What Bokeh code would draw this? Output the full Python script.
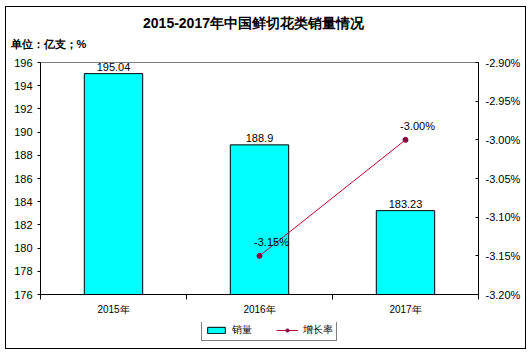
from bokeh.plotting import figure
from bokeh.layouts import column
from bokeh.models import (Range1d, LinearAxis, FixedTicker, PrintfTickFormatter, Label, Plot,
                          Legend, LegendItem, ColumnDataSource, InlineStyleSheet, LabelSet)
from bokeh.core.properties import value
from bokeh.embed import file_html
from bokeh.resources import INLINE

years = ["2015年", "2016年", "2017年"]
sales = [195.04, 188.9, 183.23]
sales_labels = ["195.04", "188.9", "183.23"]
growth_years = ["2016年", "2017年"]
growth = [-3.15, -3.00]
growth_labels = ["-3.15%", "-3.00%"]
left_ticks = [176, 178, 180, 182, 184, 186, 188, 190, 192, 194, 196]
right_ticks = [-3.20, -3.15, -3.10, -3.05, -3.00, -2.95, -2.90]
title_text = "2015-2017年中国鲜切花类销量情况"
unit_text = "单位：亿支；%"

FONT = "Liberation Sans"
W = 531
BL, BR = 40, 53
y_min, y_max = left_ticks[0], left_ticks[-1]
n = len(years)
centers = [i + 0.5 for i in range(n)]
cat_pos = dict(zip(years, centers))

can_unalign = "frame_align" in Plot.properties()


def blank_fig(h, y0=0):
    if can_unalign:
        xr = Range1d(0, W)
    else:
        xr = Range1d(BL, W - BR)
    f = figure(width=W, height=h, x_range=xr, y_range=Range1d(y0, y0 + h),
               output_backend="svg", toolbar_location=None,
               min_border_left=0, min_border_right=0, min_border_top=0, min_border_bottom=0,
               x_axis_location=None, y_axis_location=None)
    if can_unalign:
        f.frame_align = False
    f.xgrid.visible = False
    f.ygrid.visible = False
    f.outline_line_color = None
    f.background_fill_color = "white"
    f.border_fill_color = "white"
    return f


# header with title and unit
HEAD_H = 55
head = blank_fig(HEAD_H)
head.add_layout(Label(x=253, y=HEAD_H - 22, text=title_text, text_align="center",
                      text_baseline="middle", text_font=FONT, text_font_size="14px",
                      text_font_style="bold", text_color="#000000"))
head.add_layout(Label(x=10 if can_unalign else BL + 1, y=HEAD_H - 43, text=unit_text,
                      text_align="left", text_baseline="middle", text_font=FONT,
                      text_font_size="11px", text_font_style="bold", text_color="#000000"))

# main chart
p = figure(width=W, height=267, x_range=Range1d(0, n), y_range=Range1d(y_min, y_max),
           output_backend="svg", toolbar_location=None,
           min_border_left=BL, min_border_right=BR, min_border_top=7, min_border_bottom=28,
           x_axis_location=None, y_axis_location=None)
p.extra_y_ranges = {"pct": Range1d(right_ticks[0], right_ticks[-1])}
p.xgrid.visible = False
p.ygrid.visible = False
p.outline_line_color = "#808080"
p.outline_line_width = 1
p.background_fill_color = "white"
p.border_fill_color = "white"

ly = LinearAxis(ticker=FixedTicker(ticks=left_ticks))
ly.major_tick_out = 3
ly.major_tick_in = 0
ly.minor_tick_line_color = None
ly.major_label_standoff = 5
ly.major_label_text_font = FONT
ly.major_label_text_font_size = "11px"
ly.major_label_text_color = "#000000"
ly.axis_line_color = "#000000"
p.add_layout(ly, "left")

ry = LinearAxis(y_range_name="pct", ticker=FixedTicker(ticks=right_ticks),
                formatter=PrintfTickFormatter(format="%.2f%%"))
ry.major_tick_out = 0
ry.major_tick_in = 3
ry.minor_tick_line_color = None
ry.major_label_standoff = 7
ry.major_label_text_font = FONT
ry.major_label_text_font_size = "11px"
ry.major_label_text_color = "#000000"
ry.axis_line_color = "#000000"
p.add_layout(ry, "right")

cx = LinearAxis(ticker=FixedTicker(ticks=centers, minor_ticks=list(range(n + 1))),
                major_label_overrides={c: y for c, y in zip(centers, years)})
cx.axis_line_color = "#000000"
cx.major_tick_line_color = None
cx.major_tick_out = 5
cx.major_tick_in = 0
cx.minor_tick_line_color = "#000000"
cx.minor_tick_out = 5
cx.minor_tick_in = 0
cx.major_label_standoff = 4
cx.major_label_text_font = FONT
cx.major_label_text_font_size = "10px"
cx.major_label_text_color = "#000000"
p.add_layout(cx, "below")

BAR_FILL, BAR_LINE = "#00FFFF", "#000000"
LINE_COL, MARK_COL = "#C00030", "#8B0040"

src = ColumnDataSource(dict(x=centers, top=sales, bottom=[y_min] * n, lab=sales_labels))
p.vbar(x="x", top="top", bottom="bottom", width=0.4, source=src,
       fill_color=BAR_FILL, line_color=BAR_LINE, line_width=1)
p.add_layout(LabelSet(x="x", y="top", text="lab", source=src, text_align="center",
                      text_baseline="bottom", y_offset=3, text_font=value(FONT),
                      text_font_size="11px", text_color="#000000"))

gsrc = ColumnDataSource(dict(x=[cat_pos[g] for g in growth_years], y=growth, lab=growth_labels))
p.line(x="x", y="y", source=gsrc, y_range_name="pct", line_color=LINE_COL, line_width=1)
p.scatter(x="x", y="y", source=gsrc, y_range_name="pct", marker="circle", size=5,
          fill_color=MARK_COL, line_color=MARK_COL)
p.add_layout(LabelSet(x="x", y="y", text="lab", source=gsrc, y_range_name="pct",
                      text_align="center", text_baseline="middle", x_offset=12, y_offset=14,
                      text_font=value(FONT), text_font_size="11px", text_color="#000000"))

# legend strip (its renderers share the data but lie outside this strip's view)
LEG_H = 30
legf = blank_fig(LEG_H, y0=1000)
lb = legf.vbar(x="x", top="top", bottom="bottom", width=0.4, source=src,
               fill_color=BAR_FILL, line_color=BAR_LINE, line_width=1)
ll = legf.line(x="x", y="y", source=gsrc, line_color=LINE_COL, line_width=1)
lm = legf.scatter(x="x", y="y", source=gsrc, marker="circle", size=5,
                  fill_color=MARK_COL, line_color=MARK_COL)
legend = Legend(items=[LegendItem(label="销量", renderers=[lb]),
                       LegendItem(label="增长率", renderers=[ll, lm])],
                orientation="horizontal",
                location=(201 if can_unalign else 201 - BL, 11),
                glyph_width=22, glyph_height=8, label_height=12, label_width=10,
                label_text_font=FONT, label_text_font_size="10px",
                label_text_color="#000000", label_text_baseline="middle",
                border_line_color="#000000", padding=3, spacing=24, margin=0,
                label_standoff=5, background_fill_alpha=1)
legf.add_layout(legend, "center")

layout = column(head, p, legf, spacing=0)
layout.stylesheets = [InlineStyleSheet(css=(
    ":host { position: relative; }"
    ":host::after { content: ''; position: absolute; left: 5px; top: 6px; right: 5px; bottom: 3px;"
    " border: 1px solid #000; pointer-events: none; z-index: 100; }"))]

open("out.html", "w").write(file_html(layout, INLINE))
